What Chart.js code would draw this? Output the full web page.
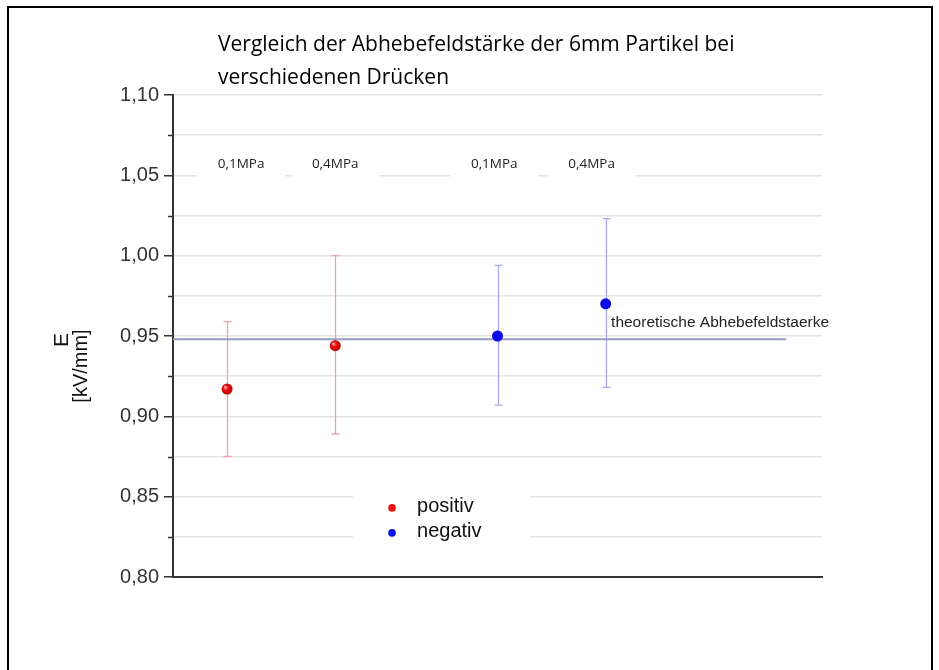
<!DOCTYPE html>
<html>
<head>
<meta charset="utf-8">
<script src="https://cdn.jsdelivr.net/npm/chart.js@4.4.1/dist/chart.umd.min.js"></script>
<style>
  html, body { margin: 0; padding: 0; background: #fff; }
  #wrap { position: relative; width: 939px; height: 670px; }
  canvas { display: block; }
</style>
</head>
<body>
<div id="wrap"><canvas id="c" width="939" height="670"></canvas></div>
<script>
// Abhebefeldstärke der 6mm Partikel, Mittelwerte mit Streubereich
const pressures      = ['0,1MPa', '0,4MPa', '0,1MPa', '0,4MPa'];
const pressureLabelX = [0.63, 1.5, 2.97, 3.87];

const positivX    = [0.5, 1.5];
const positivMean = [0.917, 0.944];
const positivLow  = [0.875, 0.889];
const positivHigh = [0.959, 1.000];

const negativX    = [3.0, 4.0];
const negativMean = [0.950, 0.970];
const negativLow  = [0.907, 0.918];
const negativHigh = [0.994, 1.023];

const theoryValue = 0.948;
const theoryX     = [0, 5.67];
const theoryLabel = 'theoretische Abhebefeldstaerke';

const yTicks = [0.80, 0.85, 0.90, 0.95, 1.00, 1.05, 1.10];
const titleLines = ['Vergleich der Abhebefeldstärke der 6mm Partikel bei', 'verschiedenen Drücken'];
const yTitleLines = ['E', '[kV/mm]'];

const fmt = v => v.toFixed(2).replace('.', ',');
const isMajor = v => yTicks.some(t => Math.abs(t - v) < 1e-6);

function sphere(ctx, base, dark) {
  const chart = ctx.chart;
  if (!chart.scales || !chart.scales.x || !ctx.raw) return base;
  const px = chart.scales.x.getPixelForValue(ctx.raw.x);
  const py = chart.scales.y.getPixelForValue(ctx.raw.y);
  if (!isFinite(px) || !isFinite(py)) return base;
  const g = chart.ctx.createRadialGradient(px - 2, py - 2, 0.5, px, py, 6);
  g.addColorStop(0, '#ffb0b0');
  g.addColorStop(0.35, base);
  g.addColorStop(1, dark);
  return g;
}

// error bars for each scatter series
const errorBars = {
  id: 'errorBars',
  beforeDatasetsDraw(chart) {
    const { ctx, scales: { x, y } } = chart;
    const sets = [
      { xs: positivX, lo: positivLow, hi: positivHigh, color: '#f4a0a8' },
      { xs: negativX, lo: negativLow, hi: negativHigh, color: '#a8a8f4' }
    ];
    ctx.save();
    ctx.lineWidth = 1.3;
    sets.forEach(s => {
      ctx.strokeStyle = s.color;
      s.xs.forEach((xv, i) => {
        const px = Math.round(x.getPixelForValue(xv)) + 0.5;
        const y1 = y.getPixelForValue(s.lo[i]);
        const y2 = y.getPixelForValue(s.hi[i]);
        ctx.beginPath();
        ctx.moveTo(px, y1); ctx.lineTo(px, y2);
        ctx.moveTo(px - 4, y1); ctx.lineTo(px + 4, y1);
        ctx.moveTo(px - 4, y2); ctx.lineTo(px + 4, y2);
        ctx.stroke();
      });
    });
    ctx.restore();
  }
};

// pressure labels, theory annotation, legend, axis titles, minor ticks, frame
const decorations = {
  id: 'decorations',
  afterDraw(chart) {
    const { ctx, scales: { x, y }, chartArea } = chart;
    ctx.save();

    // minor ticks
    ctx.strokeStyle = '#333';
    ctx.lineWidth = 1.5;
    y.ticks.forEach(t => {
      if (isMajor(t.value)) return;
      const py = Math.round(y.getPixelForValue(t.value)) + 0.5;
      ctx.beginPath();
      ctx.moveTo(chartArea.left - 5, py);
      ctx.lineTo(chartArea.left, py);
      ctx.stroke();
    });

    // pressure labels above the points
    ctx.font = '13.5px "Open Sans", "Liberation Sans", sans-serif';
    ctx.textAlign = 'center';
    ctx.textBaseline = 'middle';
    const ly = y.getPixelForValue(1.057);
    pressures.forEach((p, i) => {
      const px = x.getPixelForValue(pressureLabelX[i]);
      const w = 88;
      ctx.fillStyle = '#fff';
      ctx.fillRect(px - w / 2, ly - 12, w, 26);
      ctx.fillStyle = '#222';
      ctx.fillText(p, px, ly);
    });

    // theory annotation
    ctx.font = '15.5px "Liberation Sans", Arial, sans-serif';
    ctx.textAlign = 'left';
    ctx.fillStyle = '#222';
    ctx.fillText(theoryLabel, x.getPixelForValue(4.05), y.getPixelForValue(0.9585));

    // legend
    const lx = x.getPixelForValue(2.025);
    const ly0 = y.getPixelForValue(0.8430);
    ctx.fillStyle = '#fff';
    ctx.fillRect(lx - 39, ly0 - 24, 177, 63);
    const items = [
      { label: chart.data.datasets[0].label, color: '#e81010' },
      { label: chart.data.datasets[1].label, color: '#1010e8' }
    ];
    ctx.font = '20px "Liberation Sans", Arial, sans-serif';
    items.forEach((it, i) => {
      const yy = ly0 + i * 25;
      ctx.beginPath();
      ctx.arc(lx, yy, 3.8, 0, Math.PI * 2);
      ctx.fillStyle = it.color;
      ctx.fill();
      ctx.fillStyle = '#111';
      ctx.fillText(it.label, lx + 25, yy - 1);
    });

    // title
    ctx.font = '21px "Open Sans", Lato, sans-serif';
    ctx.fillStyle = '#000';
    ctx.textBaseline = 'middle';
    ctx.fillText(titleLines[0], 218, 45);
    ctx.fillText(titleLines[1], 218, 78);

    // y axis title
    ctx.font = '21px "Liberation Sans", Arial, sans-serif';
    ctx.fillStyle = '#111';
    ctx.textAlign = 'center';
    ctx.save();
    ctx.translate(62, 340);
    ctx.rotate(-Math.PI / 2);
    ctx.fillText(yTitleLines[0], 0, 0);
    ctx.restore();
    ctx.font = '20px "Liberation Sans", Arial, sans-serif';
    ctx.save();
    ctx.translate(81, 366);
    ctx.rotate(-Math.PI / 2);
    ctx.fillText(yTitleLines[1], 0, 0);
    ctx.restore();

    // outer frame
    ctx.strokeStyle = '#000';
    ctx.lineWidth = 2;
    ctx.strokeRect(8, 7, 924, 700);

    ctx.restore();
  }
};

new Chart(document.getElementById('c'), {
  type: 'scatter',
  data: {
    datasets: [
      {
        label: 'positiv',
        data: positivX.map((xv, i) => ({ x: xv, y: positivMean[i] })),
        pointRadius: 5.5,
        pointBorderWidth: 0,
        backgroundColor: ctx => sphere(ctx, '#f01010', '#b00000'),
        borderColor: 'rgba(0,0,0,0)'
      },
      {
        label: 'negativ',
        data: negativX.map((xv, i) => ({ x: xv, y: negativMean[i] })),
        pointRadius: 5.5,
        pointBorderWidth: 0,
        backgroundColor: '#0a0ae8',
        borderColor: 'rgba(0,0,0,0)'
      },
      {
        type: 'line',
        label: theoryLabel,
        data: theoryX.map(xv => ({ x: xv, y: theoryValue })),
        borderColor: '#9a9ac8',
        borderWidth: 2,
        pointRadius: 0,
        order: 5
      }
    ]
  },
  options: {
    responsive: false,
    animation: false,
    events: [],
    layout: { padding: { top: 95, right: 117, bottom: 0, left: 0 } },
    plugins: { legend: { display: false }, tooltip: { enabled: false }, title: { display: false } },
    scales: {
      x: {
        type: 'linear',
        min: 0, max: 6,
        border: { display: true, color: '#333', width: 2 },
        grid: { display: false, drawTicks: false },
        ticks: { display: false },
        afterFit: s => { s.height = 93; }
      },
      y: {
        min: 0.80, max: 1.10,
        afterBuildTicks: s => {
          const t = [];
          for (let v = 0.80; v <= 1.1001; v += 0.025) t.push({ value: Math.round(v * 1000) / 1000 });
          s.ticks = t;
        },
        border: { display: true, color: '#333', width: 2 },
        grid: {
          color: ctx => (ctx.tick && ctx.tick.value === 0.80) ? 'rgba(0,0,0,0)' : '#e4e4e4',
          lineWidth: 1.5,
          tickLength: 9,
          tickColor: ctx => (ctx.tick && isMajor(ctx.tick.value)) ? '#333' : 'rgba(0,0,0,0)',
          tickWidth: 1.5
        },
        ticks: {
          autoSkip: false,
          padding: 5,
          color: '#333',
          font: { family: '"Liberation Sans", Arial, sans-serif', size: 20 },
          callback: v => isMajor(v) ? fmt(v) : ''
        },
        afterFit: s => { s.width = 173; }
      }
    }
  },
  plugins: [errorBars, decorations]
});
</script>
</body>
</html>
